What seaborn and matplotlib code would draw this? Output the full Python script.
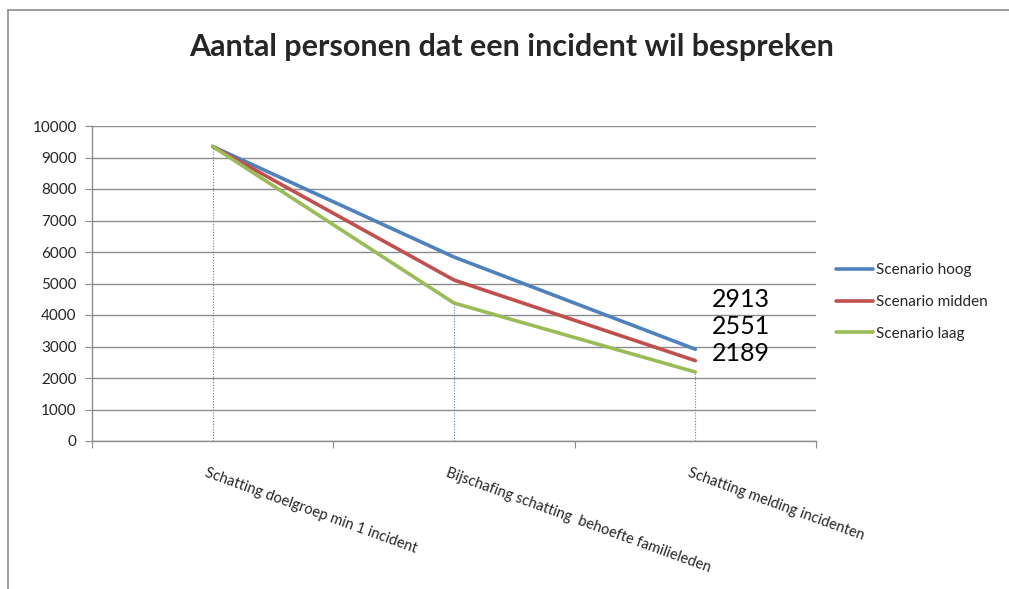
import pandas as pd
import matplotlib.pyplot as plt
import seaborn as sns
from matplotlib.lines import Line2D

# data
stappen = ["Schatting doelgroep min 1 incident",
           "Bijschafing schatting  behoefte familieleden",
           "Schatting melding incidenten"]
hoog = [9350, 5840, 2913]
midden = [9350, 5110, 2551]
laag = [9350, 4380, 2189]
scenarios = ["Scenario hoog", "Scenario midden", "Scenario laag"]
kleuren = ["#4F81BD", "#C0504D", "#9BBB59"]

df = pd.DataFrame({
    "stap": list(range(3)) * 3,
    "aantal": hoog + midden + laag,
    "scenario": [s for s in scenarios for _ in range(3)],
})

sns.set_style("white")
plt.rcParams['font.family'] = ['Lato', 'DejaVu Sans']

fig = plt.figure(figsize=(10.09, 5.89), dpi=100)
ax = fig.add_axes([92 / 1009, 1 - 441 / 589, (816 - 92) / 1009, (441 - 126) / 589])

# drop lines from the lowest series
laagste = [min(a, b, c) for a, b, c in zip(hoog, midden, laag)]
ax.vlines(range(3), 0, laagste, colors="#4F81BD", linestyles=(0, (1, 1.5)), linewidth=0.8, zorder=2)

sns.lineplot(data=df, x="stap", y="aantal", hue="scenario", palette=kleuren,
             linewidth=2.6, ax=ax, legend=False, zorder=3)

ax.set_xlim(-0.5, 2.5)
ax.set_ylim(0, 10000)
ax.set_yticks(range(0, 10001, 1000))
ax.yaxis.grid(True, color="#8c8c8c", linewidth=1)
ax.set_axisbelow(True)
ax.set_xlabel("")
ax.set_ylabel("")
for s in ["top", "right"]:
    ax.spines[s].set_visible(False)
for s in ["left", "bottom"]:
    ax.spines[s].set_color("#8c8c8c")
    ax.spines[s].set_linewidth(1)
ax.tick_params(axis="y", direction="out", length=5, color="#8c8c8c", labelsize=11, pad=6, left=True)
ax.set_xticks([-0.5, 0.5, 1.5, 2.5])
ax.set_xticklabels([])
ax.tick_params(axis="x", direction="out", length=5, color="#8c8c8c", bottom=True)

for i, lab in enumerate(stappen):
    ax.text(i - 0.02, -800, lab, rotation=-20, rotation_mode="anchor",
            ha="left", va="top", fontsize=10.5)

# end labels
for y, v in zip([4480, 3620, 2790], [hoog[2], midden[2], laag[2]]):
    ax.text(2.07, y, str(v), fontsize=18, va="center", ha="left", color="black")

fig.text(512 / 1009, 1 - 47 / 589, "Aantal personen dat een incident wil bespreken",
         ha="center", va="center", fontsize=22, fontweight="bold")

handles = [Line2D([], [], color=c, linewidth=2.6) for c in kleuren]
fig.legend(handles, scenarios, loc="center left", bbox_to_anchor=(836 / 1009, 1 - 302 / 589),
           frameon=False, fontsize=11, handlelength=2.4, handletextpad=0.2,
           labelspacing=1.15, borderpad=0, borderaxespad=0)

# chart frame
fig.add_artist(Line2D([8 / 1009, 8 / 1009], [0, 1 - 10 / 589], color="#8c8c8c", linewidth=1.2))
fig.add_artist(Line2D([8 / 1009, 1], [1 - 10 / 589, 1 - 10 / 589], color="#8c8c8c", linewidth=1.2))

fig.savefig("out.png", dpi=100)
